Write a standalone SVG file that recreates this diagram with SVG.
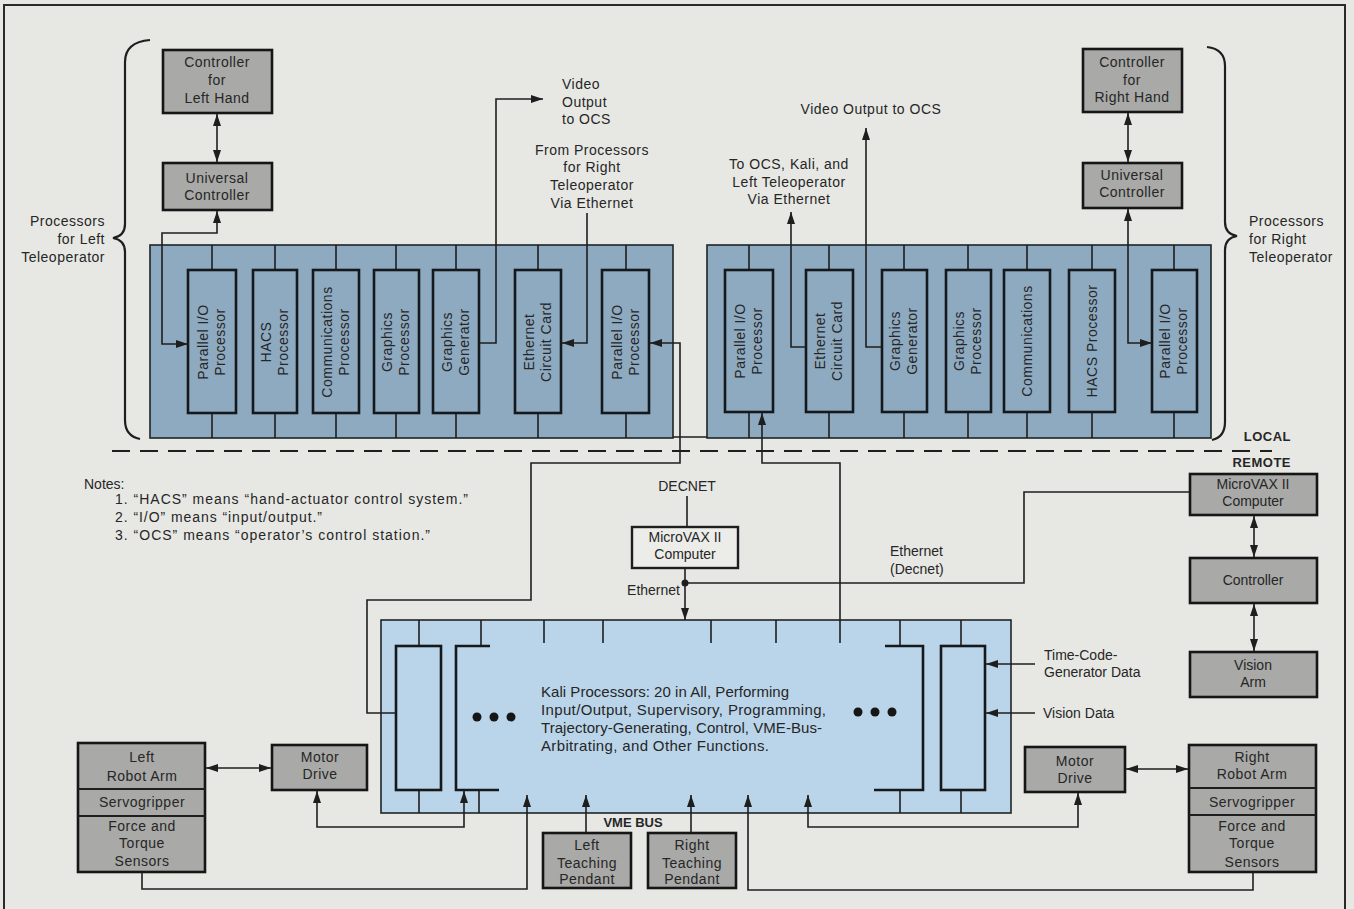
<svg xmlns="http://www.w3.org/2000/svg" width="1354" height="909" viewBox="0 0 1354 909">
<defs>
<marker id="a" viewBox="0 0 12 8" refX="12" refY="4" markerWidth="12" markerHeight="8" markerUnits="userSpaceOnUse" orient="auto-start-reverse"><path d="M0,0 L12,4 L0,8 z" fill="#1e1e1e"/></marker>
<style>
.bg{fill:#e7e8e4}
.frame{fill:none;stroke:#2a2a2a;stroke-width:2}
.panel{fill:#8eaac0;stroke:#1e2326;stroke-width:1.6}
.card{fill:#8eaac0;stroke:#16191b;stroke-width:2.6}
.kali{fill:#bad5ea;stroke:#1e2326;stroke-width:1.6}
.kcard{fill:none;stroke:#16191b;stroke-width:2.6}
.gbox{fill:#a9a9a7;stroke:#161616;stroke-width:2.6}
.wbox{fill:#ecece8;stroke:#1e1e1e;stroke-width:2.4}
.ln{fill:none;stroke:#1e1e1e;stroke-width:1.6}
.arr{marker-end:url(#a)}
.arr2{marker-start:url(#a);marker-end:url(#a)}
.dash{fill:none;stroke:#1e1e1e;stroke-width:2;stroke-dasharray:18 10}
text{font-family:"Liberation Sans",Arial,sans-serif;font-size:14px;fill:#262626;letter-spacing:0.5px}
.c{text-anchor:middle}
.r{text-anchor:end}
.b{font-weight:bold}
.n{letter-spacing:0px}
.k{letter-spacing:0px;font-size:15px}
</style>
</defs>
<rect class="bg" x="0" y="0" width="1354" height="909"/>
<rect class="frame" x="4" y="5" width="1341" height="920"/>

<!-- braces -->
<g id="brace-left">
<path class="ln" d="M150,40 Q125,42 125,62 V224 Q125,236 113,238 Q125,240 125,252 V420 Q125,436 140,439" style="stroke-width:2.2"/>
<text class="r" x="105" y="226">Processors</text>
<text class="r" x="105" y="244">for Left</text>
<text class="r" x="105" y="262">Teleoperator</text>
</g>
<g id="brace-right">
<path class="ln" d="M1207,47 Q1225,49 1225,66 V222 Q1225,234 1237,236 Q1225,238 1225,250 V422 Q1225,437 1212,440" style="stroke-width:2.2"/>
<text x="1249" y="226">Processors</text>
<text x="1249" y="244">for Right</text>
<text x="1249" y="262">Teleoperator</text>
</g>

<!-- top left controllers -->
<g id="ctrl-left-hand">
<rect class="gbox" x="163" y="50" width="109" height="63"/>
<text class="c" x="217" y="67">Controller</text>
<text class="c" x="217" y="85">for</text>
<text class="c" x="217" y="103">Left Hand</text>
</g>
<g id="univ-left">
<rect class="gbox" x="163" y="163" width="109" height="47"/>
<text class="c" x="217" y="183">Universal</text>
<text class="c" x="217" y="200">Controller</text>
</g>
<g id="ctrl-right-hand">
<rect class="gbox" x="1083" y="49" width="99" height="63"/>
<text class="c" x="1132" y="67">Controller</text>
<text class="c" x="1132" y="85">for</text>
<text class="c" x="1132" y="102">Right Hand</text>
</g>
<g id="univ-right">
<rect class="gbox" x="1083" y="163" width="99" height="45"/>
<text class="c" x="1132" y="180">Universal</text>
<text class="c" x="1132" y="197">Controller</text>
</g>

<!-- left panel -->
<g id="panel-left">
<rect class="panel" x="150" y="245" width="523" height="193"/>
<path class="ln" d="M212,245V270M275,245V270M336,245V270M396,245V270M456,245V270M538,245V270M626,245V270M212,413V438M275,413V438M336,413V438M396,413V438M456,413V438M538,413V438M626,413V438"/>
<rect class="card" x="188" y="270" width="48" height="143"/>
<rect class="card" x="253" y="270" width="44" height="143"/>
<rect class="card" x="313" y="270" width="46" height="143"/>
<rect class="card" x="374" y="270" width="45" height="143"/>
<rect class="card" x="433" y="270" width="46" height="143"/>
<rect class="card" x="515" y="270" width="46" height="143"/>
<rect class="card" x="602" y="270" width="47" height="143"/>
<text transform="translate(212,342) rotate(-90)" class="c"><tspan x="0" y="-4">Parallel I/O</tspan><tspan x="0" y="13">Processor</tspan></text>
<text transform="translate(275,342) rotate(-90)" class="c"><tspan x="0" y="-4">HACS</tspan><tspan x="0" y="13">Processor</tspan></text>
<text transform="translate(336,342) rotate(-90)" class="c"><tspan x="0" y="-4">Communications</tspan><tspan x="0" y="13">Processor</tspan></text>
<text transform="translate(396,342) rotate(-90)" class="c"><tspan x="0" y="-4">Graphics</tspan><tspan x="0" y="13">Processor</tspan></text>
<text transform="translate(456,342) rotate(-90)" class="c"><tspan x="0" y="-4">Graphics</tspan><tspan x="0" y="13">Generator</tspan></text>
<text transform="translate(538,342) rotate(-90)" class="c"><tspan x="0" y="-4">Ethernet</tspan><tspan x="0" y="13">Circuit Card</tspan></text>
<text transform="translate(626,342) rotate(-90)" class="c"><tspan x="0" y="-4">Parallel I/O</tspan><tspan x="0" y="13">Processor</tspan></text>
</g>

<!-- right panel -->
<g id="panel-right">
<rect class="panel" x="707" y="245" width="504" height="193"/>
<path class="ln" d="M749,245V270M829,245V270M904,245V270M968,245V270M1027,245V270M1092,245V270M1174,245V270M749,412V438M829,412V438M904,412V438M968,412V438M1027,412V438M1092,412V438M1174,412V438"/>
<rect class="card" x="725" y="270" width="48" height="142"/>
<rect class="card" x="806" y="270" width="47" height="142"/>
<rect class="card" x="882" y="270" width="45" height="142"/>
<rect class="card" x="946" y="270" width="45" height="142"/>
<rect class="card" x="1004" y="270" width="46" height="142"/>
<rect class="card" x="1069" y="270" width="46" height="142"/>
<rect class="card" x="1152" y="270" width="45" height="142"/>
<text transform="translate(749,341) rotate(-90)" class="c"><tspan x="0" y="-4">Parallel I/O</tspan><tspan x="0" y="13">Processor</tspan></text>
<text transform="translate(829,341) rotate(-90)" class="c"><tspan x="0" y="-4">Ethernet</tspan><tspan x="0" y="13">Circuit Card</tspan></text>
<text transform="translate(904,341) rotate(-90)" class="c"><tspan x="0" y="-4">Graphics</tspan><tspan x="0" y="13">Generator</tspan></text>
<text transform="translate(968,341) rotate(-90)" class="c"><tspan x="0" y="-4">Graphics</tspan><tspan x="0" y="13">Processor</tspan></text>
<text transform="translate(1027,341) rotate(-90)" class="c"><tspan x="0" y="5">Communications</tspan></text>
<text transform="translate(1092,341) rotate(-90)" class="c"><tspan x="0" y="5">HACS Processor</tspan></text>
<text transform="translate(1174,341) rotate(-90)" class="c"><tspan x="0" y="-4">Parallel I/O</tspan><tspan x="0" y="13">Processor</tspan></text>
</g>

<!-- labels -->
<g id="labels">
<text x="562" y="89">Video</text>
<text x="562" y="107">Output</text>
<text x="562" y="124">to OCS</text>
<text class="c" x="592" y="155">From Processors</text>
<text class="c" x="592" y="172">for Right</text>
<text class="c" x="592" y="190">Teleoperator</text>
<text class="c" x="592" y="208">Via Ethernet</text>
<text class="c" x="871" y="114">Video Output to OCS</text>
<text class="c" x="789" y="169">To OCS, Kali, and</text>
<text class="c" x="789" y="187">Left Teleoperator</text>
<text class="c" x="789" y="204">Via Ethernet</text>
<text class="b r" x="1291" y="441" style="font-size:13px">LOCAL</text>
<text class="b r" x="1291" y="467" style="font-size:13px">REMOTE</text>
<text class="c n" x="687" y="491">DECNET</text>
<text class="r n" x="680" y="595">Ethernet</text>
<text class="n" x="890" y="556">Ethernet</text>
<text class="n" x="890" y="574">(Decnet)</text>
<text class="n" x="1044" y="660">Time-Code-</text>
<text class="n" x="1044" y="677">Generator Data</text>
<text class="n" x="1043" y="718">Vision Data</text>
<text class="b c n" x="633" y="827" style="font-size:13px">VME BUS</text>
</g>

<g id="notes">
<text class="n" x="84" y="489">Notes:</text>
<text class="n" x="115" y="504" textLength="353">1. “HACS” means “hand-actuator control system.”</text>
<text class="n" x="115" y="522" textLength="207">2. “I/O” means “input/output.”</text>
<text class="n" x="115" y="540" textLength="315">3. “OCS” means “operator’s control station.”</text>
</g>

<line class="dash" x1="112" y1="451" x2="1272" y2="451"/>

<!-- center MicroVAX -->
<g id="microvax-center">
<rect class="wbox" x="632" y="527" width="106" height="41"/>
<text class="c n" x="685" y="542">MicroVAX II</text>
<text class="c n" x="685" y="559">Computer</text>
</g>

<!-- Remote chain -->
<g id="microvax-remote">
<rect class="gbox" x="1190" y="474" width="127" height="41"/>
<text class="c n" x="1253" y="489">MicroVAX II</text>
<text class="c n" x="1253" y="506">Computer</text>
</g>
<g id="controller-remote">
<rect class="gbox" x="1190" y="558" width="127" height="45"/>
<text class="c n" x="1253" y="585">Controller</text>
</g>
<g id="vision-arm">
<rect class="gbox" x="1190" y="652" width="127" height="45"/>
<text class="c n" x="1253" y="670">Vision</text>
<text class="c n" x="1253" y="687">Arm</text>
</g>

<!-- Kali panel -->
<g id="kali">
<rect class="kali" x="381" y="620" width="630" height="193"/>
<path class="ln" d="M419,620V646M481,620V646M544,620V643M603,620V643M711,620V643M776,620V643M900,620V646M961,620V646M419,790V813M479,790V813M900,790V813M961,790V813"/>
<rect class="kcard" x="396" y="646" width="45" height="144"/>
<path class="kcard" d="M490,646H456V790H499"/>
<path class="kcard" d="M885,646H923V790H874"/>
<rect class="kcard" x="941" y="646" width="44" height="144"/>
<g fill="#161616"><circle cx="477" cy="717" r="4.5"/><circle cx="494" cy="717" r="4.5"/><circle cx="511" cy="717" r="4.5"/><circle cx="858" cy="712" r="4.5"/><circle cx="875" cy="712" r="4.5"/><circle cx="892" cy="712" r="4.5"/></g>
<text class="k" x="541" y="697" textLength="248">Kali Processors: 20 in All, Performing</text>
<text class="k" x="541" y="715" textLength="285">Input/Output, Supervisory, Programming,</text>
<text class="k" x="541" y="733" textLength="281">Trajectory-Generating, Control, VME-Bus-</text>
<text class="k" x="541" y="751" textLength="228">Arbitrating, and Other Functions.</text>
</g>

<!-- bottom nodes -->
<g id="left-robot-arm">
<rect class="gbox" x="78" y="743" width="127" height="129"/>
<path class="ln" d="M78,789H205M78,816H205" style="stroke-width:2"/>
<text class="c" x="142" y="762">Left</text>
<text class="c" x="142" y="781">Robot Arm</text>
<text class="c" x="142" y="807">Servogripper</text>
<text class="c" x="142" y="831">Force and</text>
<text class="c" x="142" y="848">Torque</text>
<text class="c" x="142" y="866">Sensors</text>
</g>
<g id="motor-drive-left">
<rect class="gbox" x="272" y="745" width="95" height="45"/>
<text class="c" x="320" y="762">Motor</text>
<text class="c" x="320" y="779">Drive</text>
</g>
<g id="right-robot-arm">
<rect class="gbox" x="1189" y="745" width="127" height="127"/>
<path class="ln" d="M1189,788H1316M1189,815H1316" style="stroke-width:2"/>
<text class="c" x="1252" y="762">Right</text>
<text class="c" x="1252" y="779">Robot Arm</text>
<text class="c" x="1252" y="807">Servogripper</text>
<text class="c" x="1252" y="831">Force and</text>
<text class="c" x="1252" y="848">Torque</text>
<text class="c" x="1252" y="867">Sensors</text>
</g>
<g id="motor-drive-right">
<rect class="gbox" x="1025" y="747" width="100" height="45"/>
<text class="c" x="1075" y="766">Motor</text>
<text class="c" x="1075" y="783">Drive</text>
</g>
<g id="left-pendant">
<rect class="gbox" x="543" y="833" width="88" height="55"/>
<text class="c" x="587" y="850">Left</text>
<text class="c" x="587" y="868">Teaching</text>
<text class="c" x="587" y="884">Pendant</text>
</g>
<g id="right-pendant">
<rect class="gbox" x="648" y="833" width="88" height="55"/>
<text class="c" x="692" y="850">Right</text>
<text class="c" x="692" y="868">Teaching</text>
<text class="c" x="692" y="884">Pendant</text>
</g>

<!-- connectors -->
<g id="connectors">
<path class="ln arr2" d="M217,114V162"/>
<path class="ln arr2" d="M217,211V233H162V344H188"/>
<path class="ln arr" d="M479,343H496V99H543"/>
<path class="ln arr" d="M587,213V343H562"/>
<path class="ln arr" d="M396,713H367V600H531V463H680V343H650"/>
<path class="ln" d="M673,437H707"/>
<path class="ln arr2" d="M1128,113V162"/>
<path class="ln arr2" d="M1128,209V343H1152"/>
<path class="ln arr" d="M806,347H791V212"/>
<path class="ln arr" d="M882,347H866V128"/>
<path class="ln arr" d="M840,643V463H762V413"/>
<path class="ln" d="M687,496V527"/>
<path class="ln arr" d="M685,568V620"/>
<circle cx="685" cy="583" r="3.5" fill="#1e1e1e"/>
<path class="ln" d="M685,583H1024V492H1190"/>
<path class="ln arr2" d="M1254,516V557"/>
<path class="ln arr2" d="M1254,604V651"/>
<path class="ln arr" d="M1035,664H986"/>
<path class="ln arr" d="M1035,713H986"/>
<path class="ln arr2" d="M206,768H271"/>
<path class="ln arr2" d="M317,791V827H464V791"/>
<path class="ln arr" d="M142,872V889H527V795"/>
<path class="ln arr" d="M586,833V795"/>
<path class="ln arr" d="M691,833V795"/>
<path class="ln arr" d="M1253,872V890H748V795"/>
<path class="ln arr2" d="M1078,793V827H808V795"/>
<path class="ln arr2" d="M1126,769H1188"/>
</g>
</svg>
